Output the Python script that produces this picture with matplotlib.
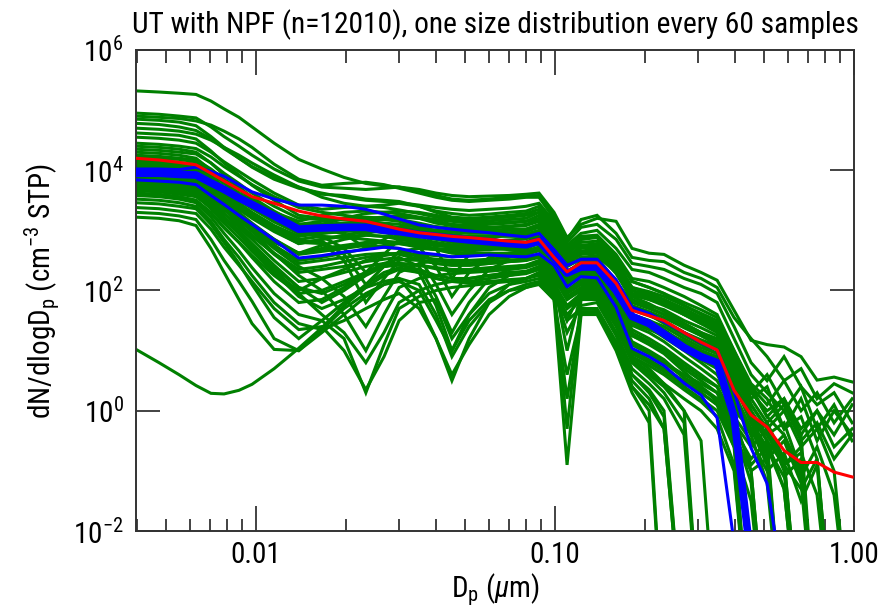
import numpy as np
import matplotlib
matplotlib.use('Agg')
import matplotlib.pyplot as plt
from matplotlib import font_manager
from matplotlib.ticker import FixedLocator, FuncFormatter, NullFormatter

names = {f.name for f in font_manager.fontManager.ttflist}
FONT = 'Liberation Sans'
for cand in ['Liberation Sans Narrow', 'Roboto Condensed', 'Noto Sans Condensed',
             'Open Sans Condensed', 'Liberation Sans']:
    if cand in names:
        FONT = cand
        break
plt.rcParams['font.family'] = [FONT, 'DejaVu Sans']
plt.rcParams['mathtext.fontset'] = 'custom'
plt.rcParams['mathtext.rm'] = FONT
plt.rcParams['mathtext.it'] = FONT + ':italic'
plt.rcParams['mathtext.sf'] = FONT

# ---------------- data (log10 of dN/dlogDp) ----------------
diam_um = [0.00394, 0.00474, 0.00553, 0.00630, 0.00707, 0.00782, 0.00877, 0.00970,
           0.0115, 0.0139, 0.0166, 0.0197, 0.0233, 0.0268, 0.0301, 0.0351, 0.0400,
           0.0452, 0.0516, 0.0602, 0.0702, 0.0800, 0.0884, 0.0992, 0.1097, 0.1222,
           0.1382, 0.1600, 0.1809, 0.2063, 0.2314, 0.2701, 0.3078, 0.3483, 0.3969,
           0.4524, 0.5117, 0.5832, 0.6647, 0.7519, 0.8571, 0.985]

mean_log = ("4.20 4.17 4.13 4.09 3.95 3.82 3.68 3.56 3.45 3.32 "
            "3.24 3.19 3.15 3.08 3.02 2.96 2.93 2.90 2.88 2.85 2.82 2.80 "
            "2.85 2.55 2.31 2.46 2.46 2.12 1.67 1.58 1.50 1.30 1.14 1.01 0.34 -0.07 -0.27 -0.66 -0.86 -0.86 -1.02 -1.10")
median_log = ("3.95 3.95 3.93 3.92 3.79 3.68 3.54 3.43 3.24 3.02 "
              "3.04 3.05 3.05 3.00 2.98 2.93 2.90 2.87 2.84 2.81 2.78 2.76 "
              "2.82 2.55 2.29 2.39 2.39 2.00 1.57 1.45 1.28 1.05 0.90 0.80 -0.10 -2.5 x x x x x x")
q75_log = ("4.02 4.02 4.01 4.05 3.98 3.90 3.76 3.64 3.52 3.42 "
           "3.42 3.40 3.35 3.27 3.19 3.09 3.05 3.02 2.99 2.96 2.92 2.89 "
           "2.95 2.68 2.42 2.52 2.52 2.18 1.72 1.62 1.48 1.30 1.13 1.01 0.32 -0.62 -1.21 -3.0 x x x x")
q25_log = ("3.84 3.82 3.80 3.76 3.58 3.43 3.25 3.10 2.84 2.54 "
           "2.58 2.64 2.68 2.72 2.70 2.63 2.60 2.56 2.57 2.59 2.57 2.56 "
           "2.61 2.42 2.06 2.23 2.21 1.72 1.04 0.90 0.75 0.46 0.26 -0.12 -2.2 x x x x x x x")

samples_log = [
    "5.32 5.30 5.28 5.26 5.15 5.02 4.88 4.72 4.45 4.18  4.02 3.88 3.78 3.74 3.72 3.68 3.62 3.58 3.56 3.57 3.58 3.6  3.62 3.3 2.88 3.1 3.2 3.15 2.7 2.62 2.6 2.42 2.3 2.17 1.67 1.17 1.1 1.06 0.9 0.51 0.56 0.48",
    "4.95 4.93 4.9 4.87 4.72 4.56 4.4 4.25 4.02 3.82  3.72 3.7 3.68 3.7 3.72 3.65 3.58 3.52 3.5 3.52 3.55 3.56  3.58 3.25 2.85 3.18 3.25 2.95 2.55 2.5 2.48 2.3 2.2 2.05 1.55 1.2 0.9 0.5 0.7 0.2 0.45 0.3",
    "4.9 4.88 4.86 4.82 4.75 4.65 4.52 4.38 4.1 3.85  3.75 3.78 3.8 3.76 3.7 3.62 3.55 3.5 3.48 3.5 3.52 3.55  3.55 3.2 2.8 3.05 3.1 2.85 2.45 2.4 2.35 2.2 2.1 1.95 1.4 0.8 0.5 0.9 0.4 0.1 0.3 -0.2",
    "4.85 4.83 4.8 4.74 4.56 4.38 4.2 4.05 3.85 3.7  3.62 3.55 3.5 3.48 3.46 3.42 3.38 3.35 3.33 3.35 3.37 3.4  3.45 3.15 2.75 2.95 3.0 2.7 2.35 2.3 2.2 2.05 1.95 1.8 1.2 0.6 0.3 0.0 0.4 -0.3 0.1 -0.5",
    "4.78 4.76 4.72 4.66 4.52 4.36 4.2 4.06 3.88 3.72  3.6 3.58 3.52 3.5 3.48 3.4 3.32 3.28 3.25 3.27 3.3 3.32  3.4 3.1 2.7 2.9 2.92 2.6 2.2 2.15 2.05 1.9 1.75 1.6 1.0 0.4 -0.1 -0.4 -1.0 -4 x x",
    "4.7 4.68 4.65 4.6 4.5 4.38 4.25 4.12 3.92 3.72  3.55 3.45 3.4 3.42 3.45 3.4 3.3 3.22 3.2 3.22 3.25 3.28  3.35 3.05 2.65 2.88 2.9 2.55 2.15 2.05 1.95 1.75 1.6 1.45 0.9 0.3 0.0 0.2 -0.3 0.0 -0.4 0.1",
    "4.62 4.6 4.58 4.52 4.32 4.12 3.92 3.75 3.5 3.25  3.2 3.18 3.15 3.18 3.22 3.2 3.15 3.1 3.08 3.1 3.12 3.15  3.25 2.95 2.6 2.8 2.82 2.45 2.0 1.9 1.8 1.6 1.45 1.3 0.7 0.1 -0.3 -0.8 -4 x x x",
    "4.55 4.53 4.5 4.45 4.3 4.14 3.98 3.84 3.62 3.42  3.35 3.38 3.4 3.38 3.34 3.28 3.22 3.18 3.15 3.16 3.18 3.2  3.3 3.0 2.62 2.85 2.88 2.5 2.05 1.95 1.85 1.65 1.5 1.4 0.75 0.2 -0.2 0.1 -0.5 -0.2 -0.8 -0.4",
    "4.45 4.43 4.4 4.36 4.22 4.06 3.9 3.76 3.56 3.38  3.3 3.25 3.2 3.22 3.25 3.2 3.12 3.08 3.05 3.05 3.07 3.1  3.18 2.9 2.5 2.72 2.75 2.35 1.9 1.78 1.65 1.45 1.3 1.15 0.5 -0.2 -0.7 -4 x x x x",
    "4.35 4.33 4.3 4.27 4.12 3.95 3.78 3.62 3.4 3.2  3.18 3.2 3.22 3.2 3.18 3.12 3.06 3.02 3.0 3.0 3.02 3.02  3.1 2.82 2.45 2.65 2.68 2.3 1.85 1.72 1.6 1.4 1.25 1.1 0.4 -0.1 -0.4 -0.9 -1.3 -0.8 -4 x",
    "4.25 4.23 4.2 4.17 4.02 3.85 3.68 3.52 3.3 3.1  3.1 3.12 3.12 3.08 3.05 3.0 2.96 2.93 2.9 2.9 2.9 2.9  2.98 2.7 2.4 2.52 2.55 2.15 1.72 1.6 1.45 1.25 1.1 0.95 0.3 -0.4 -1.2 -4 x x x x",
    "4.18 4.16 4.13 4.1 3.95 3.78 3.6 3.45 3.22 3.0  3.0 3.02 3.05 3.02 2.98 2.93 2.9 2.86 2.84 2.83 2.82 2.8  2.88 2.6 2.32 2.45 2.45 2.05 1.6 1.5 1.35 1.12 0.95 0.85 0.1 -0.3 -0.6 -1.1 -0.8 -4 x x",
    "4.12 4.1 4.08 4.05 3.88 3.7 3.52 3.38 3.15 2.95  2.95 2.98 3.0 2.96 2.92 2.85 2.8 2.76 2.74 2.72 2.7 2.7  2.78 2.5 2.22 2.35 2.35 1.95 1.5 1.38 1.22 1.0 0.8 0.6 0.1 -0.4 -0.2 -0.9 -0.7 -1.4 -4 x",
    "4.08 4.06 4.04 4.0 3.82 3.62 3.42 3.25 3.0 2.78  2.85 2.9 2.92 2.9 2.88 2.82 2.76 2.72 2.7 2.7 2.68 2.66  2.72 2.45 2.15 2.3 2.3 1.9 1.42 1.3 1.15 0.9 0.7 0.5 0.0 -0.3 -0.8 -0.5 -1.2 -4 x x",
    "4.03 4.01 3.98 3.95 3.8 3.62 3.45 3.3 3.08 2.9  2.95 3.0 3.02 3.0 2.96 2.9 2.85 2.8 2.78 2.76 2.74 2.72  2.8 2.52 2.25 2.38 2.4 2.0 1.55 1.42 1.25 1.02 0.85 0.7 -0.1 -1.0 -4 x x x x x",
    "3.98 3.96 3.94 3.92 3.76 3.58 3.4 3.25 3.02 2.82  2.82 2.6 2.1 2.4 2.65 2.7 2.68 2.62 2.6 2.62 2.62 2.62  2.7 2.42 2.1 2.25 2.25 1.8 1.3 1.15 1.0 0.7 0.5 0.3 -0.2 -0.6 -0.3 -1.0 -4 x x x",
    "3.94 3.92 3.9 3.88 3.7 3.5 3.3 3.12 2.85 2.6  2.65 2.7 2.75 2.72 2.7 2.55 2.1 1.6 2.0 2.35 2.5 2.52  2.6 2.35 2.0 2.18 2.2 1.7 1.15 1.0 0.85 0.55 0.4 0.2 -0.5 -4 x x x x x x",
    "3.9 3.88 3.86 3.83 3.65 3.45 3.25 3.05 2.75 2.45  2.5 2.55 2.6 2.62 2.6 2.52 2.45 2.42 2.42 2.45 2.48 2.5  2.55 2.3 1.95 2.1 2.1 1.6 1.0 0.8 0.7 0.5 0.3 0.1 -0.6 -4 x x x x x x",
    "3.86 3.84 3.82 3.78 3.6 3.4 3.2 3.0 2.7 2.4  2.2 1.9 1.4 1.9 2.3 2.45 2.5 2.48 2.46 2.48 2.5 2.52  2.6 2.35 2.0 2.15 2.15 1.65 1.1 0.95 0.8 0.6 0.45 0.3 -0.3 -1.2 -4 x x x x x",
    "3.82 3.8 3.77 3.72 3.55 3.35 3.12 2.92 2.6 2.3  2.35 2.4 2.48 2.52 2.55 2.4 1.9 1.3 1.8 2.2 2.35 2.4  2.45 2.2 1.5 2.0 2.05 1.5 0.9 0.75 0.6 0.35 0.15 -0.1 -0.9 -4 x x x x x x",
    "3.78 3.76 3.72 3.68 3.52 3.34 3.16 3.0 2.8 2.62  2.7 2.75 2.8 2.8 2.78 2.72 2.68 2.64 2.62 2.62 2.6 2.6  2.66 2.4 2.1 2.25 2.28 1.85 1.35 1.2 1.05 0.8 0.6 0.4 -0.1 -0.5 -1.0 -0.7 -1.5 -0.9 -4 x",
    "3.74 3.72 3.68 3.64 3.44 3.22 3.0 2.78 2.42 2.05  1.8 2.0 2.25 2.4 2.45 2.42 2.38 2.35 2.35 2.38 2.4 2.42  2.5 2.25 1.9 2.05 2.05 1.55 0.95 0.8 0.65 0.4 0.2 0.0 -0.6 -1.5 -4 x x x x x",
    "3.7 3.68 3.65 3.62 3.42 3.2 2.98 2.75 2.35 1.95  1.6 1.3 0.8 1.3 1.8 2.0 2.1 2.15 2.2 2.25 2.28 2.3  2.35 2.1 1.7 1.9 1.9 1.4 0.8 0.55 0.3 -0.2 -4 x x x x x x x x x",
    "3.66 3.64 3.6 3.56 3.38 3.18 2.95 2.7 2.3 1.9  1.7 1.85 2.05 2.15 2.2 1.8 1.2 0.5 1.2 1.8 2.1 2.2  2.3 2.05 -0.3 1.85 1.85 1.3 0.7 0.45 0.2 -0.4 -4 x x x x x x x x x",
    "3.62 3.6 3.56 3.5 3.3 3.05 2.8 2.55 2.15 1.8  1.85 2.05 2.3 2.4 2.42 2.35 2.25 2.2 2.2 2.25 2.3 2.32  2.4 2.15 1.0 1.95 1.98 1.5 0.9 0.7 0.45 0.0 -4 x x x x x x x x x",
    "3.58 3.56 3.52 3.46 3.22 2.95 2.66 2.38 1.95 1.6  1.5 1.2 0.3 1.1 1.7 1.9 2.0 2.05 2.08 2.12 2.15 2.2  2.25 2.0 1.3 1.75 1.8 1.25 0.6 0.35 0.0 -4 x x x x x x x x x x",
    "3.52 3.5 3.46 3.4 3.15 2.85 2.55 2.25 1.8 1.45  1.35 1.5 1.7 1.85 1.95 1.7 1.2 0.6 1.1 1.6 1.9 2.05  2.12 1.85 -0.9 1.6 1.65 1.1 0.4 0.1 -0.3 -4 x x x x x x x x x x",
    "3.46 3.44 3.4 3.36 3.1 2.8 2.45 2.1 1.55 1.2  1.5 1.8 2.1 2.3 2.38 2.3 2.2 2.15 2.12 2.15 2.18 2.2  2.28 2.0 1.6 1.85 1.85 1.3 0.6 0.3 -0.1 -4 x x x x x x x x x x",
    "3.38 3.36 3.32 3.28 3.02 2.72 2.42 2.15 1.7 1.35  1.4 1.0 0.35 0.9 1.5 1.8 1.85 1.2 1.6 1.95 2.1 2.15  2.2 1.95 1.5 1.7 1.7 1.15 0.5 0.2 -0.3 -4 x x x x x x x x x x",
    "3.3 3.28 3.24 3.18 2.85 2.5 2.15 1.82 1.2 1.0  1.3 1.6 1.9 2.1 2.2 2.1 1.6 0.9 1.4 1.8 2.0 2.1  2.15 1.9 0.2 1.65 1.65 1.05 0.4 0.0 -4 x x x x x x x x x x x",
    "3.22 3.2 3.16 3.08 2.7 2.3 1.85 1.45 1.02 1.0  1.35 1.7 1.95 2.1 2.15 2.0 1.5 1.0 1.5 1.85 2.0 2.05  2.1 1.85 0.6 1.6 1.6 1.0 0.3 -0.2 -4 x x x x x x x x x x x",
    "1.03 0.8 0.6 0.42 0.29 0.28 0.34 0.44 0.7 1.04  1.38 1.75 2.05 2.25 2.35 2.3 2.2 2.15 2.15 2.2 2.25 2.28  2.35 2.1 1.7 1.9 1.92 1.45 0.85 0.6 0.4 0.0 -0.5 -4 x x x x x x x x",
    "4.0 3.98 3.95 3.9 3.74 3.56 3.38 3.22 3.0 2.8  2.78 2.5 1.8 2.2 2.5 2.55 2.52 2.5 2.5 2.52 2.55 2.6  2.68 2.4 2.1 2.3 2.32 1.95 1.5 1.4 1.3 1.15 1.0 0.9 0.2 -0.4 -0.2 -0.9 -4 x x x",
    "4.22 4.2 4.18 4.14 3.98 3.8 3.62 3.48 3.28 3.1  3.15 3.18 3.2 3.18 3.15 3.05 2.7 2.2 2.6 2.85 2.95 3.0  3.08 2.8 2.5 2.65 2.7 2.4 2.0 1.92 1.85 1.7 1.55 1.45 0.85 0.3 0.6 0.1 -0.4 0.0 -0.6 -0.3",
    "3.96 3.94 3.9 3.86 3.68 3.48 3.28 3.1 2.85 2.62  2.75 2.85 2.92 2.9 2.85 2.8 2.75 2.72 2.7 2.72 2.74 2.75  2.82 2.55 2.28 2.42 2.45 2.15 1.8 1.7 1.6 1.45 1.3 1.2 0.6 0.0 -0.5 -4 x x x x",
    "4.06 4.04 4.02 3.98 3.84 3.68 3.5 3.36 3.14 2.95  3.0 3.05 3.08 3.05 3.0 2.96 2.92 2.9 2.88 2.9 2.92 2.94  3.0 2.72 2.4 2.55 2.58 2.3 1.92 1.85 1.78 1.6 1.5 1.38 0.8 0.2 0.4 -0.3 0.2 -0.5 0.0 -0.4",
    "3.88 3.86 3.83 3.8 3.62 3.4 3.18 2.98 2.62 2.25  2.0 1.6 1.0 1.6 2.05 2.2 2.25 2.28 2.3 2.32 2.35 2.38  2.45 2.2 1.85 2.0 2.0 1.55 1.0 0.85 0.7 0.45 0.3 0.1 -0.4 -1.0 -0.8 -4 x x x x",
    "3.8 3.78 3.75 3.7 3.5 3.28 3.05 2.85 2.5 2.15  2.2 2.3 2.4 2.45 2.45 2.3 1.75 1.0 1.6 2.05 2.25 2.3  2.38 2.12 1.75 1.95 1.95 1.45 0.85 0.65 0.45 0.2 0.0 -0.3 -1.0 -4 x x x x x x",
    "4.15 4.13 4.1 4.06 3.9 3.72 3.55 3.4 3.18 2.98  3.0 2.95 2.7 2.85 3.0 3.02 3.0 2.97 2.95 2.95 2.96 2.98  3.05 2.78 2.45 2.6 2.62 2.35 1.95 1.88 1.8 1.65 1.55 1.42 0.95 0.4 0.1 0.5 0.0 0.3 -0.2 0.2",
    "3.72 3.7 3.66 3.6 3.4 3.18 2.95 2.72 2.38 2.05  1.95 2.1 2.3 2.45 2.52 2.5 2.45 2.42 2.42 2.45 2.48 2.5  2.58 2.32 2.0 2.15 2.18 1.75 1.25 1.1 0.95 0.65 0.4 0.15 -0.3 -0.8 -0.5 -1.3 -4 x x x",
    "4.0 3.98 3.96 3.94 3.82 3.7 3.58 3.46 3.3 3.15  3.25 3.3 3.32 3.3 3.28 3.22 3.18 3.15 3.12 3.12 3.14 3.15  3.2 2.9 2.55 2.75 2.78 2.45 2.05 1.98 1.9 1.75 1.62 1.5 0.9 0.35 -0.1 0.2 -0.4 -4 x x",
    "4.3 4.28 4.25 4.2 4.0 3.8 3.6 3.42 3.18 2.95  2.9 2.88 2.85 2.82 2.8 2.78 2.75 2.74 2.74 2.76 2.78 2.8  2.9 2.6 2.3 2.45 2.48 2.15 1.7 1.6 1.5 1.3 1.15 1.05 0.45 -0.2 -0.6 -1.3 -4 x x x",
    "3.9 3.88 3.85 3.82 3.66 3.5 3.35 3.22 3.05 2.9  3.1 3.2 3.28 3.3 3.32 3.3 3.25 3.2 3.18 3.2 3.22 3.25  3.3 3.0 2.65 2.85 2.9 2.55 2.15 2.05 1.95 1.8 1.68 1.55 1.0 0.45 0.2 -0.3 -0.1 -0.8 -4 x",
    "3.84 3.82 3.8 3.76 3.58 3.38 3.18 3.0 2.75 2.5  2.55 2.62 2.7 2.75 2.78 2.75 2.7 2.68 2.66 2.68 2.7 2.72  2.78 2.5 2.2 2.35 2.38 2.0 1.6 1.5 1.4 1.2 1.05 0.95 0.3 -0.3 -0.9 -4 x x x x",
    "4.1 4.08 4.05 4.02 3.86 3.7 3.52 3.38 3.18 3.0  3.08 3.12 3.15 3.12 3.1 3.05 3.0 2.98 2.96 2.98 3.0 3.02  3.08 2.8 2.45 2.62 2.65 2.28 1.85 1.75 1.68 1.5 1.38 1.25 0.6 0.0 -0.4 -0.2 -1.0 -4 x x",
    "3.76 3.74 3.7 3.66 3.48 3.28 3.08 2.9 2.62 2.35  2.4 2.48 2.55 2.6 2.62 2.58 2.5 2.46 2.45 2.48 2.5 2.52  2.58 2.32 1.98 2.12 2.15 1.75 1.25 1.12 1.0 0.75 0.55 0.4 -0.2 -0.9 -0.6 -4 x x x x",
    "3.68 3.66 3.62 3.58 3.36 3.12 2.88 2.65 2.3 2.0  2.2 2.35 2.5 2.58 2.62 2.6 2.58 2.56 2.58 2.6 2.62 2.65  2.7 2.45 2.12 2.28 2.3 1.9 1.45 1.35 1.25 1.05 0.9 0.75 0.1 -0.3 -0.7 -0.4 -1.1 -0.6 -1.4 -4",
    "4.4 4.38 4.35 4.3 4.12 3.92 3.72 3.55 3.32 3.1  3.05 3.02 2.95 3.0 3.05 3.08 3.06 3.04 3.02 3.04 3.06 3.08  3.15 2.85 2.5 2.7 2.72 2.38 1.95 1.85 1.75 1.6 1.45 1.35 0.7 0.1 -0.3 0.0 -0.6 -0.3 -1.0 -4",
    "3.6 3.58 3.55 3.5 3.28 3.04 2.8 2.58 2.25 1.95  2.0 2.15 2.3 2.4 2.45 2.42 2.36 2.32 2.32 2.35 2.38 2.42  2.48 2.22 1.85 2.02 2.02 1.6 1.1 0.95 0.8 0.55 0.35 0.2 -0.4 -1.0 -4 x x x x x",
    "3.92 3.9 3.88 3.85 3.7 3.52 3.35 3.2 2.98 2.78  2.85 2.92 2.98 2.98 2.95 2.9 2.86 2.83 2.8 2.8 2.8 2.8  2.88 2.6 2.28 2.42 2.45 2.1 1.68 1.58 1.48 1.3 1.18 1.08 0.4 -0.1 -0.5 -0.9 -0.6 -4 x x",
    "4.02 4.0 3.98 3.95 3.78 3.6 3.42 3.28 3.05 2.85  2.9 2.7 2.3 2.6 2.85 2.9 2.88 2.85 2.82 2.82 2.84 2.86  2.92 2.65 2.3 2.48 2.5 2.15 1.75 1.65 1.55 1.38 1.25 1.12 0.5 -0.1 -0.7 -4 x x x x",
    "3.8 3.78 3.76 3.72 3.56 3.38 3.2 3.05 2.82 2.62  2.68 2.72 2.78 2.8 2.8 2.72 2.4 1.9 2.3 2.55 2.62 2.65  2.72 2.45 2.15 2.3 2.32 1.95 1.5 1.42 1.32 1.15 1.0 0.88 0.25 -0.4 -0.2 -0.8 -4 x x x",
]

title_text = "UT with NPF (n=12010), one size distribution every 60 samples"
x_tick_values = [0.01, 0.1, 1.0]
x_tick_labels = ["0.01", "0.10", "1.00"]
y_tick_exponents = [-2, 0, 2, 4, 6]


def parse(s):
    vals = [np.nan if t == 'x' else float(t) for t in s.split()]
    arr = np.array(vals, dtype=float)
    assert len(arr) == len(diam_um), (len(arr), s[:30])
    return 10.0 ** arr


D = np.array(diam_um)

fig = plt.figure(figsize=(8.86, 6.09), dpi=100)
ax = fig.add_axes([0.1535, 0.128, 0.8105, 0.790])

GREEN = '#008000'
for s in samples_log:
    ax.plot(D, parse(s), color=GREEN, lw=2.2, solid_joinstyle='miter', zorder=2)

ax.plot(D, parse(q75_log), color='#0000ff', lw=2.2, zorder=3)
ax.plot(D, parse(q25_log), color='#0000ff', lw=2.2, zorder=3)
ax.plot(D, parse(median_log), color='#0000ff', lw=5.5, zorder=4)
ax.plot(D, parse(mean_log), color='#ff0000', lw=2.2, zorder=5)

ax.set_xscale('log')
ax.set_yscale('log')
ax.set_xlim(0.00397, 1.0)
ax.set_ylim(1e-2, 1e6)

ax.xaxis.set_major_locator(FixedLocator(x_tick_values))
ax.xaxis.set_major_formatter(FuncFormatter(
    lambda v, p: x_tick_labels[int(np.argmin([abs(np.log10(t) - np.log10(v)) for t in x_tick_values]))]))
minors = [m * 10.0 ** e for e in (-3, -2, -1) for m in range(2, 10)]
minors = [m for m in minors if 0.00397 < m < 1.0]
ax.xaxis.set_minor_locator(FixedLocator(minors))
ax.xaxis.set_minor_formatter(NullFormatter())

ax.yaxis.set_major_locator(FixedLocator([10.0 ** e for e in y_tick_exponents]))
ax.yaxis.set_major_formatter(FuncFormatter(lambda v, p: r'$10^{%d}$' % round(np.log10(v))))
ax.yaxis.set_minor_locator(FixedLocator([]))

ax.tick_params(axis='both', which='both', direction='in', top=True, right=True,
               colors='#222222', labelcolor='black', width=1.2)
ax.tick_params(axis='x', which='major', length=18, pad=7, labelsize=21)
ax.tick_params(axis='x', which='minor', length=9)
ax.tick_params(axis='y', which='major', length=17, pad=9, labelsize=21)
for sp in ax.spines.values():
    sp.set_linewidth(1.4)
    sp.set_color('#333333')

t = ax.set_title(title_text, fontsize=19, pad=12)
ax.set_xlabel(r'D$_\mathrm{p}$ ($\mu$m)', fontsize=21, labelpad=2)
ax.set_ylabel(r'dN/dlogD$_\mathrm{p}$ (cm$^{-3}$ STP)', fontsize=21, labelpad=8)

# fit title width to the reference (~729 px)
fig.canvas.draw()
w = t.get_window_extent().width
if w > 0:
    t.set_fontsize(19 * 729.0 / w)

fig.savefig('out.png', dpi=100)
